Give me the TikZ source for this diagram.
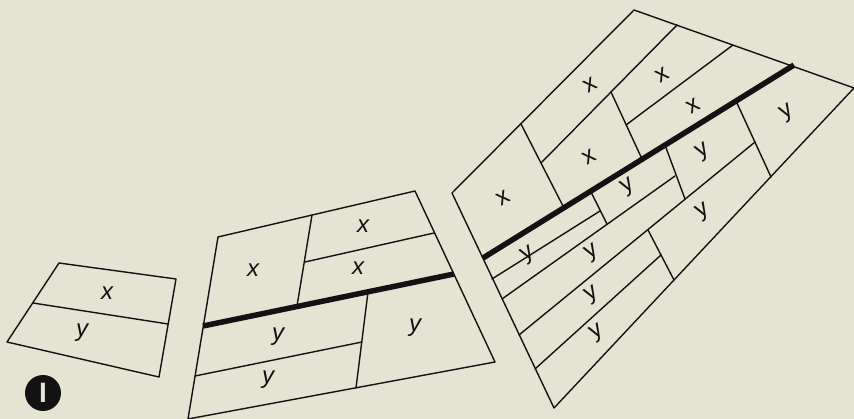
\documentclass[tikz,border=0pt]{standalone}
\usepackage{fontspec}
\setsansfont{Liberation Sans}
\usepackage{xcolor}
\usepackage{tikz}
\definecolor{paper}{RGB}{229,227,210}
\definecolor{ink}{RGB}{18,18,18}

\begin{document}
\begin{tikzpicture}[x=1pt, y=-1pt,
  every node/.style={text=ink, inner sep=0pt,
                     font=\fontsize{24}{24}\selectfont\sffamily},
  parcel/.style={draw=ink, line width=1.4pt, line join=round, line cap=round},
  road/.style={draw=ink, line width=5.5pt},
  flat/.style={font=\fontsize{24}{24}\selectfont\sffamily\itshape},
  tilted/.style={rotate=30},
]
\fill[paper] (0,0) rectangle (854,419);
\useasboundingbox (0,0) rectangle (854,419);

% small field
\coordinate (s1) at (59,263);  \coordinate (s2) at (176,279);
\coordinate (s3) at (159,377); \coordinate (s4) at (7,342);
\draw[parcel] (s1) -- (s2) -- (s3) -- (s4) -- cycle;
\draw[parcel] (33,303) -- (168,324);
\node[flat] (sx) at (107,293) {x};
\node[flat] (sy) at (82,333) {y};
\node[circle, fill=ink, minimum size=36pt, text=paper,
      font=\fontsize{28}{28}\selectfont\sffamily\bfseries] (num) at (43,393) {I};

% middle field
\coordinate (m1) at (218,237); \coordinate (m2) at (415,191);
\coordinate (m3) at (495,362); \coordinate (m4) at (188,419);
\draw[parcel] (m1) -- (m2) -- (m3) -- (m4) -- cycle;
\coordinate (ma) at (312,215); \coordinate (mb) at (297,306);
\coordinate (mc) at (368,292); \coordinate (md) at (356,388);
\draw[parcel] (ma) -- (mb);
\draw[parcel] (305,262) -- (434,233);
\draw[parcel] (mc) -- (md);
\draw[parcel] (195,376) -- (362,342);
\draw[road] (203,326) -- (454,274);
\node[flat] (mx1) at (253,270) {x};
\node[flat] (mx2) at (363,226) {x};
\node[flat] (mx3) at (358,268) {x};
\node[flat] (my1) at (278,337) {y};
\node[flat] (my2) at (268,380) {y};
\node[flat] (my3) at (415,328) {y};

% large field
\coordinate (T) at (634,10);  \coordinate (R) at (854,88);
\coordinate (B) at (554,408); \coordinate (L) at (452,193);
\draw[parcel] (T) -- (R) -- (B) -- (L) -- cycle;
% above the road
\draw[parcel] (521,124) -- (564,208);
\draw[parcel] (677,25) -- (541,163);
\draw[parcel] (611,92) -- (642,159);
\draw[parcel] (733,45) -- (626,125);
% below the road
\draw[parcel] (736,101) -- (771,177);
\draw[parcel] (755,142) -- (519,335);
\draw[parcel] (665,145) -- (685,199);
\draw[parcel] (675,176) -- (502,299);
\draw[parcel] (590,190) -- (607,224);
\draw[parcel] (600,211) -- (492,279);
\draw[parcel] (648,230) -- (674,280);
\draw[parcel] (661,255) -- (535,369);
\draw[road] (483,258) -- (794,65);
\node[tilted] (bx1) at (503,198) {x};
\node[tilted] (bx2) at (590,85) {x};
\node[tilted] (bx3) at (589,157) {x};
\node[tilted] (bx4) at (662,75) {x};
\node[tilted] (bx5) at (693,106) {x};
\node[tilted] (by1) at (787,113) {y};
\node[tilted] (by2) at (703,152) {y};
\node[tilted] (by3) at (703,212) {y};
\node[tilted] (by4) at (628,187) {y};
\node[tilted] (by5) at (528,255) {y};
\node[tilted] (by6) at (592,253) {y};
\node[tilted] (by7) at (592,295) {y};
\node[tilted] (by8) at (597,333) {y};
\end{tikzpicture}
\end{document}
